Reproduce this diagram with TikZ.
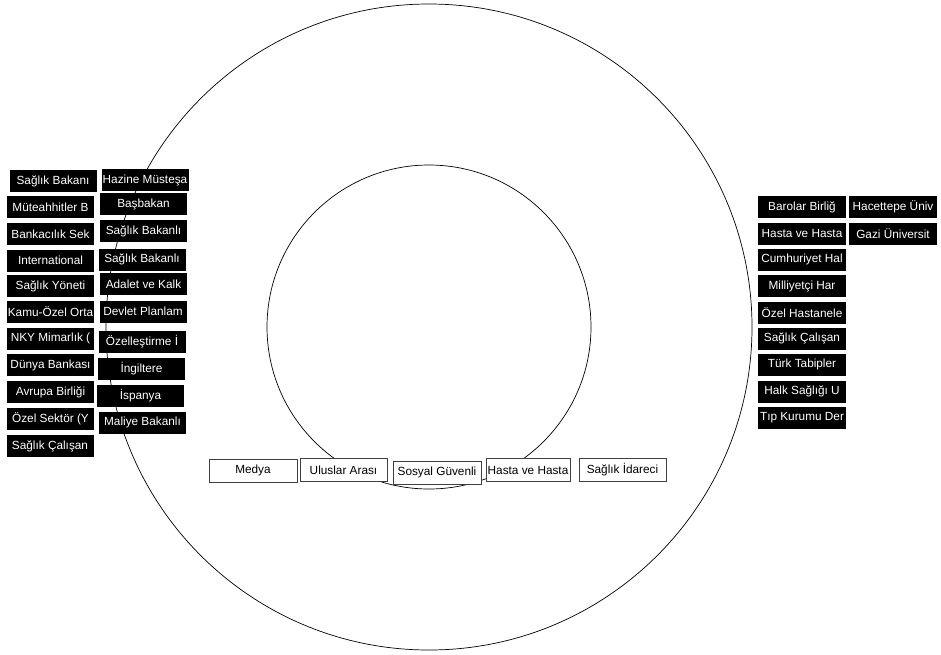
\documentclass[tikz,border=0pt]{standalone}
\usepackage{fontspec}
\setmainfont{Liberation Sans}
\begin{document}
\begin{tikzpicture}[x=1pt,y=-1pt,every node/.style={font=\fontsize{11.8}{13}\selectfont,inner sep=0pt,minimum height=22pt},
  dark/.style={fill=black,text=white,minimum width=87pt},
  light/.style={draw=black!75,line width=.8pt,fill=white,minimum width=87pt,minimum height=23pt}]
  \useasboundingbox (0,0) rectangle (941,654);
  \draw[line width=.7pt] (429,327) circle[radius=323pt];
  \draw[line width=.7pt] (429,327) circle[radius=162pt];
  % left column
  \node[dark] (sb1) at (53,181) {Sağlık Bakanı};
  \node[dark] (mut) at (50.5,207) {Müteahhitler B};
  \node[dark] (bank) at (50.5,234) {Bankacılık Sek};
  \node[dark] (intl) at (50.5,260.5) {International};
  \node[dark] (syon) at (50.5,286) {Sağlık Yöneti};
  \node[dark] (kamu) at (50.5,311.5) {Kamu-Özel Orta};
  \node[dark] (nky) at (50.5,338.5) {NKY Mimarlık (};
  \node[dark] (dunya) at (50.5,365) {Dünya Bankası};
  \node[dark] (ab) at (50.5,392) {Avrupa Birliği};
  \node[dark] (ozsek) at (50.5,418.5) {Özel Sektör (Y};
  \node[dark] (scal1) at (50,446) {Sağlık Çalışan};
  % second column
  \node[dark] (hazine) at (145,180) {Hazine Müsteşa};
  \node[dark] (basb) at (143.5,204) {Başbakan};
  \node[dark] (sb2) at (143.5,231) {Sağlık Bakanlı};
  \node[dark] (sb3) at (142,259.5) {Sağlık Bakanlı};
  \node[dark] (adalet) at (143.5,284) {Adalet ve Kalk};
  \node[dark] (dpt) at (143,311.5) {Devlet Planlam};
  \node[dark] (ozel) at (142,342) {Özelleştirme İ};
  \node[dark] (ing) at (141.5,369) {İngiltere};
  \node[dark] (isp) at (140.5,396) {İspanya};
  \node[dark] (maliye) at (142.5,422.5) {Maliye Bakanlı};
  % right columns
  \node[dark,minimum width=88pt] (baro) at (802,207) {Barolar Birliğ};
  \node[dark,minimum width=88pt] (hasta1) at (802,233.5) {Hasta ve Hasta};
  \node[dark,minimum width=88pt] (chp) at (802,259.5) {Cumhuriyet Hal};
  \node[dark,minimum width=88pt] (mhp) at (802,286) {Milliyetçi Har};
  \node[dark,minimum width=88pt] (ozhas) at (802,312.5) {Özel Hastanele};
  \node[dark,minimum width=88pt] (scal2) at (802,338.5) {Sağlık Çalışan};
  \node[dark,minimum width=88pt] (ttb) at (802,364.5) {Türk Tabipler};
  \node[dark,minimum width=88pt] (halk) at (802,391.5) {Halk Sağlığı U};
  \node[dark,minimum width=88pt] (tip) at (802,417.5) {Tıp Kurumu Der};
  \node[dark,minimum width=88pt] (hac) at (893,207) {Hacettepe Üniv};
  \node[dark,minimum width=88pt] (gazi) at (893,233.5) {Gazi Üniversit};
  % bottom row
  \node[light,minimum width=88pt] (medya) at (253,470.5) {Medya};
  \node[light] (ulus) at (343.5,470) {Uluslar Arası};
  \node[light,minimum width=88pt] (sgk) at (437,472.5) {Sosyal Güvenli};
  \node[light,minimum width=84pt] (hasta2) at (528,470) {Hasta ve Hasta};
  \node[light] (sidare) at (622.5,470) {Sağlık İdareci};
\end{tikzpicture}
\end{document}
